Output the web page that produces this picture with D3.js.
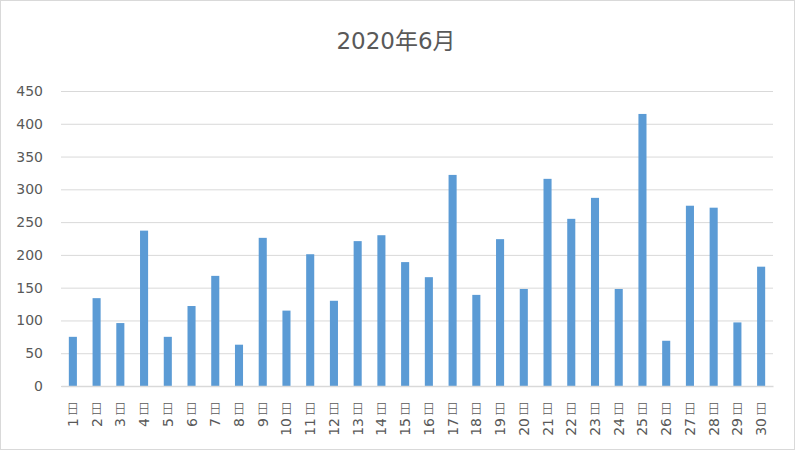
<!DOCTYPE html>
<html><head><meta charset="utf-8">
<script src="https://cdn.jsdelivr.net/npm/d3@7"></script>
<style>body{margin:0;background:#fff}svg{display:block}</style>
</head><body>
<svg id="c" width="796" height="451"></svg>
<script>
const title = "2020年6月";
const days = d3.range(1, 31).map(d => d + "日");
const values = [75,134,96,237,75,122,168,63,226,115,201,130,221,230,189,166,322,139,224,148,316,255,287,148,415,69,275,272,97,182];
const yTicks = [0,50,100,150,200,250,300,350,400,450];

const svg = d3.select("#c");
const W = 796, H = 451;
const m = {l:61, r:23, t:91, b:65};
const font = "'DejaVu Sans','Noto Sans CJK JP',sans-serif";

svg.append("rect").attr("x",0.5).attr("y",0.5).attr("width",W-2).attr("height",H-2)
  .attr("fill","#fff").attr("stroke","#d9d9d9");

const x = d3.scaleBand().domain(days).range([m.l, W-m.r]).paddingInner(0.66).paddingOuter(0.33);
const y = d3.scaleLinear().domain([0,450]).range([H-m.b, m.t]);

svg.append("text").attr("x",396).attr("y",49).attr("text-anchor","middle")
  .attr("font-family",font).attr("font-size",23).attr("fill","#595959").text(title);

const ya = svg.append("g").attr("transform",`translate(${m.l},0)`)
  .call(d3.axisLeft(y).tickValues(yTicks).tickSize(-(W-m.l-m.r)).tickPadding(18));
ya.select(".domain").remove();
ya.selectAll(".tick line").attr("stroke","#d9d9d9").attr("stroke-width",1);
ya.selectAll(".tick text").attr("font-family",font).attr("font-size",14).attr("fill","#595959");

svg.append("g").selectAll("rect").data(values).join("rect")
  .attr("x",(d,i)=>x(days[i])).attr("width",x.bandwidth())
  .attr("y",d=>y(d)).attr("height",d=>y(0)-y(d)).attr("fill","#5b9bd5");

const xa = svg.append("g").attr("transform",`translate(0,${y(0)})`)
  .call(d3.axisBottom(x).tickSize(0).tickFormat(""));
xa.select(".domain").attr("stroke","#d9d9d9").attr("stroke-width",1.5);

const lab = svg.append("g");
days.forEach((d,i)=>{
  const cx = x(d) + x.bandwidth()/2;
  lab.append("text").attr("x",cx).attr("y",413).attr("text-anchor","middle")
    .attr("font-family","'Noto Sans CJK JP',sans-serif").attr("font-weight",300)
    .attr("font-size",13).attr("fill","#595959").text("日");
  lab.append("text").attr("transform",`translate(${cx+5},418) rotate(-90)`)
    .attr("text-anchor","end").attr("font-family",font).attr("font-size",14)
    .attr("fill","#595959").text(String(i+1));
});
</script>
</body></html>
